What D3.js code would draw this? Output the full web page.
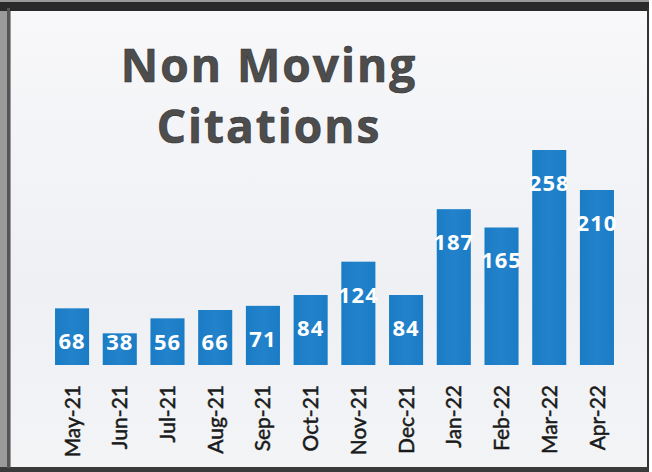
<!DOCTYPE html>
<html>
<head>
<meta charset="utf-8">
<script src="https://cdn.jsdelivr.net/npm/d3@7/dist/d3.min.js"></script>
<style>
html,body{margin:0;padding:0;background:#fff;}
svg{display:block;}
</style>
</head>
<body>
<script>
const titleLines = ["Non Moving", "Citations"];
const months = ["May-21","Jun-21","Jul-21","Aug-21","Sep-21","Oct-21","Nov-21","Dec-21","Jan-22","Feb-22","Mar-22","Apr-22"];
const citations = [68, 38, 56, 66, 71, 84, 124, 84, 187, 165, 258, 210];

const W = 652, H = 472;
const svg = d3.select("body").append("svg").attr("width", W).attr("height", H);

const defs = svg.append("defs");
const bg = defs.append("linearGradient").attr("id","bg").attr("x1",0).attr("y1",0).attr("x2",0).attr("y2",1);
bg.append("stop").attr("offset","0%").attr("stop-color","#f8f8fa");
bg.append("stop").attr("offset","60%").attr("stop-color","#eef0f4");
bg.append("stop").attr("offset","100%").attr("stop-color","#f3f4f6");
const bar = defs.append("linearGradient").attr("id","bar").attr("x1",0).attr("y1",0).attr("x2",1).attr("y2",0);
bar.append("stop").attr("offset","0%").attr("stop-color","#1b7cc6");
bar.append("stop").attr("offset","50%").attr("stop-color","#2283cb");
bar.append("stop").attr("offset","100%").attr("stop-color","#1b7cc6");

// scanned frame
svg.append("rect").attr("x",0).attr("y",0).attr("width",W).attr("height",H).attr("fill","#ffffff");
svg.append("rect").attr("x",0).attr("y",0).attr("width",649).attr("height",H).attr("fill","#9a9a9a");
svg.append("rect").attr("x",11).attr("y",11).attr("width",637).attr("height",456).attr("fill","url(#bg)");
svg.append("rect").attr("x",0).attr("y",2).attr("width",649).attr("height",9).attr("fill","#2a2a2a");
svg.append("rect").attr("x",0).attr("y",467).attr("width",649).attr("height",5).attr("fill","#3a3a3a");
svg.append("rect").attr("x",7).attr("y",8).attr("width",3).attr("height",460).attr("fill","#555");
svg.append("rect").attr("x",647).attr("y",8).attr("width",2).attr("height",460).attr("fill","#333");

// title
svg.append("g").selectAll("text").data(titleLines).join("text")
  .attr("x", 269).attr("y", (d,i) => 82 + i*61)
  .attr("text-anchor","middle")
  .attr("font-family","'Open Sans', sans-serif")
  .attr("font-weight",700)
  .attr("font-size",46)
  .attr("letter-spacing",2)
  .attr("fill","#4d4d4d")
  .attr("stroke","#2f2f2f").attr("stroke-width",0.6)
  .text(d => d);

const baseline = 365;
const x = d3.scaleBand().domain(months).range([48.2, 620.8]).paddingInner(0.286).paddingOuter(0.143);
const y = d3.scaleLinear().domain([0, 258]).range([baseline, 150]);

svg.append("g").selectAll("rect").data(citations).join("rect")
  .attr("x", (d,i) => x(months[i]))
  .attr("y", d => y(d))
  .attr("width", x.bandwidth())
  .attr("height", d => baseline - y(d))
  .attr("fill","url(#bar)");

svg.append("g").selectAll("text").data(citations).join("text")
  .attr("x", (d,i) => x(months[i]) + x.bandwidth()/2)
  .attr("y", d => Math.min(y(d) + 33, baseline - 23))
  .attr("dy","0.36em")
  .attr("text-anchor","middle")
  .attr("font-family","'Open Sans', sans-serif")
  .attr("font-weight",700)
  .attr("font-size",22)
  .attr("letter-spacing",1)
  .attr("fill","#ffffff")
  .text(d => d);

const xAxis = svg.append("g").attr("transform",`translate(0,${baseline})`)
  .call(d3.axisBottom(x).tickSize(0).tickPadding(0));
xAxis.select(".domain").remove();
xAxis.selectAll("text")
  .attr("transform","rotate(-90)")
  .attr("x",-20).attr("y",0).attr("dy","0.36em")
  .attr("text-anchor","end")
  .attr("font-family","Lato, sans-serif")
  .attr("font-size",21)
  .attr("fill","#1a1a1a")
  .attr("stroke","#1a1a1a").attr("stroke-width",0.5);
</script>
</body>
</html>
